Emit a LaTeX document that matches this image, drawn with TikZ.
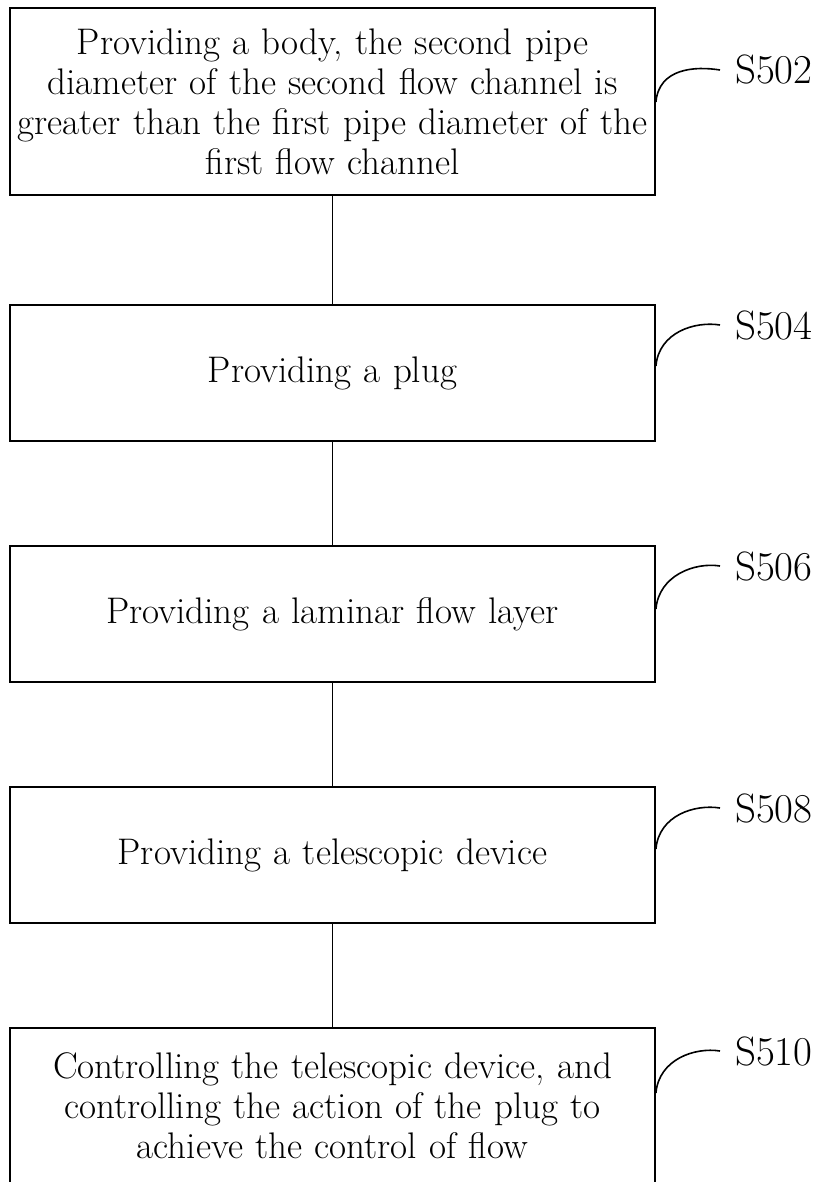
\documentclass[tikz,border=0pt]{standalone}
\usepackage{tikz}
\usetikzlibrary{positioning}

\begin{document}
\begin{tikzpicture}[x=1pt, y=1pt,
  stepbox/.style={draw, line width=1.8pt, text width=640pt, inner xsep=2.5pt,
    inner ysep=0pt, align=center, font=\fontsize{37}{40}\selectfont},
  link/.style={line width=1.8pt},
  hook/.style={line width=1.6pt},
  lbl/.style={inner sep=0pt, anchor=west, font=\fontsize{41}{46}\selectfont}]
  \useasboundingbox (0,0) rectangle (828,-1182);
  % steps
  \node[stepbox, minimum height=187pt] (b502) at (332.5,-101.5)
    {Providing a body, the second pipe\\ diameter of the second flow channel is\\
     greater than the first pipe diameter of the\\ first flow channel};
  \node[stepbox, minimum height=136pt] (b504) at (332.5,-373) {Providing a plug};
  \node[stepbox, minimum height=136pt] (b506) at (332.5,-614) {Providing a laminar flow layer};
  \node[stepbox, minimum height=136pt] (b508) at (332.5,-855) {Providing a telescopic device};
  \node[stepbox, minimum height=156pt] (b510) at (332.5,-1106)
    {Controlling the telescopic device, and\\ controlling the action of the plug to\\
     achieve the control of flow};
  % links
  \draw[link] (b502) -- (b504);
  \draw[link] (b504) -- (b506);
  \draw[link] (b506) -- (b508);
  \draw[link] (b508) -- (b510);
  % labels
  \node[lbl] (l502) at (735,-70) {S502};
  \node[lbl] (l504) at (735,-325) {S504};
  \node[lbl] (l506) at (735,-566) {S506};
  \node[lbl] (l508) at (735,-808) {S508};
  \node[lbl] (l510) at (735,-1051) {S510};
  % hooks
  \draw[hook] ([yshift=-95pt]b502.north east) .. controls +(3,34) and +(-25,4) .. ([xshift=-15pt]l502.west);
  \draw[hook] ([yshift=-62pt]b504.north east) .. controls +(3,34) and +(-25,4) .. ([xshift=-15pt]l504.west);
  \draw[hook] ([yshift=-64pt]b506.north east) .. controls +(3,34) and +(-25,4) .. ([xshift=-15pt]l506.west);
  \draw[hook] ([yshift=-63pt]b508.north east) .. controls +(3,34) and +(-25,4) .. ([xshift=-15pt]l508.west);
  \draw[hook] ([yshift=-66pt]b510.north east) .. controls +(3,34) and +(-25,4) .. ([xshift=-15pt]l510.west);
\end{tikzpicture}
\end{document}
